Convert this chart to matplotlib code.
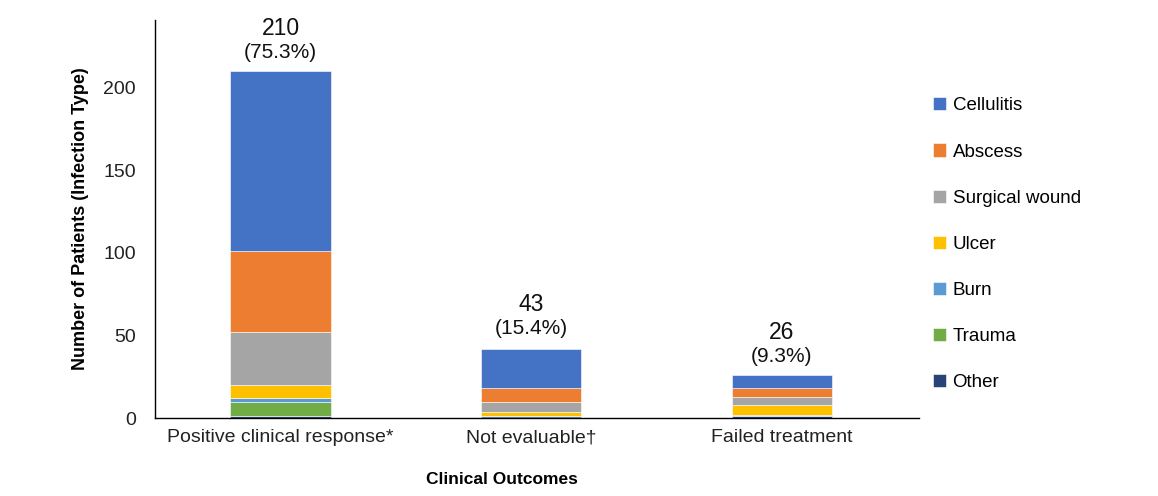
import numpy as np
import matplotlib.pyplot as plt
from matplotlib import font_manager

# Narrow sans if present, otherwise fall back
names = {f.name for f in font_manager.fontManager.ttflist}
base_font = "Liberation Sans Narrow" if "Liberation Sans Narrow" in names else "Liberation Sans"
plt.rcParams["font.family"] = [base_font, "DejaVu Sans"]

outcomes = ["Positive clinical response*", "Not evaluable\u2020", "Failed treatment"]
totals = [210, 43, 26]
percents = ["75.3%", "15.4%", "9.3%"]

# stacked from the bottom up
infection_types = ["Other", "Trauma", "Burn", "Ulcer", "Surgical wound", "Abscess", "Cellulitis"]
other = [1, 0, 1]
trauma = [9, 0, 0]
burn = [2, 1, 1]
ulcer = [8, 3, 6]
surgical = [32, 6, 5]
abscess = [49, 8, 5]
cellulitis = [109, 24, 8]

colors = {
    "Cellulitis": "#4472C4",
    "Abscess": "#ED7D31",
    "Surgical wound": "#A5A5A5",
    "Ulcer": "#FFC000",
    "Burn": "#5B9BD5",
    "Trauma": "#70AD47",
    "Other": "#264478",
}

series = [other, trauma, burn, ulcer, surgical, abscess, cellulitis]

fig = plt.figure(figsize=(11.58, 4.96), dpi=100)
ax = fig.add_axes([0.134, 0.157, 0.660, 0.803])

x = np.arange(len(outcomes))
bottom = np.zeros(len(outcomes))
handles = {}
for name, vals in zip(infection_types, series):
    vals = np.array(vals, dtype=float)
    h = ax.bar(x, vals, width=0.4, bottom=bottom, color=colors[name],
               edgecolor="white", linewidth=0.4, label=name)
    handles[name] = h
    bottom += vals

# total count on top, share of patients just under it
for xi, tot, pct in zip(x, totals, percents):
    ax.annotate(f"({pct})", (xi, tot), xytext=(0, 13.5),
                textcoords="offset points", ha="center", va="center",
                fontsize=15, color="#111111")
    ax.annotate(f"{tot}", (xi, tot), xytext=(0, 30.5),
                textcoords="offset points", ha="center", va="center",
                fontsize=16.5, color="#111111")

ax.set_xlim(-0.5, 2.55)
ax.set_ylim(0, 241)
ax.set_yticks([0, 50, 100, 150, 200])
ax.set_xticks(x)
ax.set_xticklabels(outcomes)
ax.tick_params(axis="both", length=0, labelsize=14, colors="#222222")
ax.tick_params(axis="x", pad=8)
ax.tick_params(axis="y", pad=14)

for side in ["top", "right"]:
    ax.spines[side].set_visible(False)
ax.spines["left"].set_linewidth(1.0)
ax.spines["bottom"].set_linewidth(1.0)

ax.set_ylabel("Number of Patients (Infection Type)", fontsize=13, fontweight="bold", labelpad=10)
ax.set_xlabel("Clinical Outcomes", fontsize=12.5, fontweight="bold")
ax.xaxis.set_label_coords(0.454, -0.135)

legend_order = ["Cellulitis", "Abscess", "Surgical wound", "Ulcer", "Burn", "Trauma", "Other"]
leg = fig.legend([handles[n] for n in legend_order], legend_order,
                 loc="upper left", bbox_to_anchor=(0.791, 0.838),
                 frameon=False, fontsize=13.5, handlelength=0.7, handleheight=0.7,
                 handletextpad=0.35, labelspacing=1.55)

fig.savefig("out.png", dpi=100)
